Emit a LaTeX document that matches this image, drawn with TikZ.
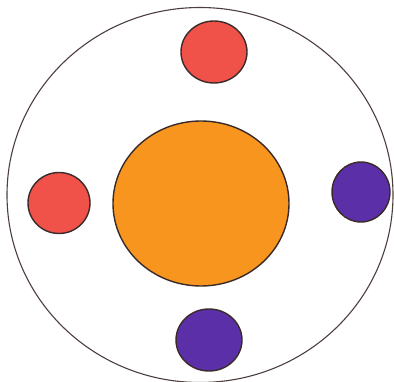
\documentclass[tikz,border=0pt]{standalone}
\usetikzlibrary{shapes.geometric}
\definecolor{redc}{HTML}{F0524A}
\definecolor{orangec}{HTML}{F7951F}
\definecolor{bluec}{HTML}{5B2FA8}
\definecolor{edgec}{HTML}{3A2A2A}
\begin{document}
\begin{tikzpicture}[x=1pt,y=-1pt,
  blob/.style={ellipse,draw=edgec,line width=1.4pt,inner sep=0pt},
  outer/.style={ellipse,draw=edgec!90,line width=1.1pt,inner sep=0pt}]
\useasboundingbox[fill=white] (0,0) rectangle (394,382);
\node[outer,minimum width=386pt,minimum height=375pt] (ring) at (200,195) {};
\node[blob,fill=orangec,minimum width=176pt,minimum height=165pt] (core) at (201,203.5) {};
\node[blob,fill=redc,minimum width=66pt,minimum height=62pt] (top) at (214,52) {};
\node[blob,fill=redc,minimum width=62pt,minimum height=61pt] (left) at (59,203) {};
\node[blob,fill=bluec,minimum width=58pt,minimum height=60pt] (right) at (361,192) {};
\node[blob,fill=bluec,minimum width=66pt,minimum height=62pt] (bottom) at (209,340) {};
\end{tikzpicture}
\end{document}
